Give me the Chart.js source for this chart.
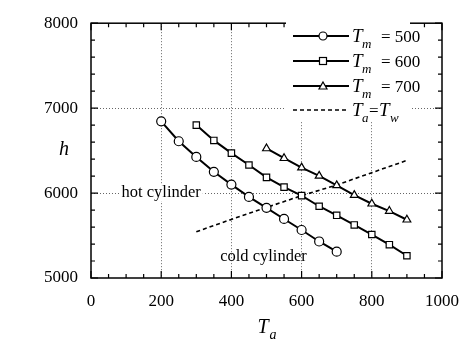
<!DOCTYPE html>
<html>
<head>
<meta charset="utf-8">
<script src="https://cdn.jsdelivr.net/npm/chart.js@4.4.1/dist/chart.umd.min.js"></script>
<style>
  html, body { margin: 0; padding: 0; background: #fff; }
  #wrap { width: 472px; height: 345px; }
</style>
</head>
<body>
<div id="wrap"><canvas id="myChart" width="472" height="345"></canvas></div>
<script>
// values
const ta500 = [200, 250, 300, 350, 400, 450, 500, 550, 600, 650, 700]
const h500 = [6845, 6610, 6425, 6250, 6100, 5955, 5826, 5695, 5565, 5430, 5310]

const ta600 = [300, 350, 400, 450, 500, 550, 600, 650, 700, 750, 800, 850, 900]
const h600 = [6800, 6620, 6470, 6330, 6185, 6070, 5970, 5845, 5738, 5625, 5512, 5392, 5262]

const ta700 = [500, 550, 600, 650, 700, 750, 800, 850, 900]
const h700 = [6525, 6410, 6300, 6203, 6090, 5976, 5874, 5788, 5686]

const taWall = [300, 400, 500, 600, 700, 800, 900]
const hWall = [5545, 5690, 5830, 5970, 6095, 6240, 6385]

const xTicks = [0, 200, 400, 600, 800, 1000]
const yTicks = [5000, 6000, 7000, 8000]
const legendNames = ['500', '600', '700']

const serif = '"Liberation Serif", "DejaVu Serif", serif'

function toPoints(xs, ys) {
   return xs.map((x, i) => ({ x: x, y: ys[i] }))
}

// inward ticks + full box + legend + text labels
const decorations = {
   id: 'decorations',
   afterDraw(chart) {
      const ctx = chart.ctx
      const a = chart.chartArea
      const xs = chart.scales.x
      const ys = chart.scales.y
      ctx.save()
      ctx.strokeStyle = '#000'
      ctx.lineWidth = 1.2

      for (let v = 0; v <= 1000; v += 50) {
         const px = xs.getPixelForValue(v)
         const len = v % 200 === 0 ? 7 : 4
         ctx.beginPath()
         ctx.moveTo(px, a.bottom); ctx.lineTo(px, a.bottom - len)
         ctx.moveTo(px, a.top); ctx.lineTo(px, a.top + len)
         ctx.stroke()
      }
      for (let v = 5000; v <= 8000; v += 200) {
         const py = ys.getPixelForValue(v)
         const len = v % 1000 === 0 ? 7 : 4
         ctx.beginPath()
         ctx.moveTo(a.left, py); ctx.lineTo(a.left + len, py)
         ctx.moveTo(a.right, py); ctx.lineTo(a.right - len, py)
         ctx.stroke()
      }

      ctx.lineWidth = 1.5
      ctx.strokeRect(a.left, a.top, a.right - a.left, a.bottom - a.top)

      // region labels
      ctx.font = '16.5px ' + serif
      ctx.textBaseline = 'middle'
      ctx.textAlign = 'left'
      const hotX = xs.getPixelForValue(87)
      const hotY = ys.getPixelForValue(6000)
      const hw = ctx.measureText('hot cylinder').width
      ctx.fillStyle = '#fff'
      ctx.fillRect(hotX - 2, hotY - 8, hw + 4, 16)
      ctx.fillStyle = '#000'
      ctx.fillText('hot cylinder', hotX, hotY)
      ctx.fillText('cold cylinder', xs.getPixelForValue(368), ys.getPixelForValue(5250))

      // legend
      const lx0 = 293, lx1 = 349, mx = 323
      const rows = [36, 61, 86, 110]
      ctx.fillStyle = '#fff'
      ctx.fillRect(286, 22, 124, 100)
      chart.data.datasets.forEach((ds, i) => {
         const y = rows[i]
         ctx.strokeStyle = '#000'
         ctx.lineWidth = ds.borderWidth
         ctx.setLineDash(ds.borderDash || [])
         ctx.beginPath()
         ctx.moveTo(lx0, y); ctx.lineTo(lx1, y)
         ctx.stroke()
         ctx.setLineDash([])
         ctx.lineWidth = 1.2
         ctx.fillStyle = '#fff'
         if (ds.pointStyle === 'circle') {
            ctx.beginPath(); ctx.arc(mx, y, 4, 0, Math.PI * 2); ctx.fill(); ctx.stroke()
         } else if (ds.pointStyle === 'rect') {
            ctx.fillRect(mx - 3.5, y - 3.5, 7, 7); ctx.strokeRect(mx - 3.5, y - 3.5, 7, 7)
         } else if (ds.pointStyle === 'triangle') {
            ctx.beginPath(); ctx.moveTo(mx, y - 4); ctx.lineTo(mx + 4, y + 3); ctx.lineTo(mx - 4, y + 3)
            ctx.closePath(); ctx.fill(); ctx.stroke()
         }
         ctx.fillStyle = '#000'
         ctx.textAlign = 'left'
         ctx.textBaseline = 'alphabetic'
         ctx.font = 'italic 19px ' + serif
         ctx.fillText('T', 352, y + 6)
         if (i < 3) {
            ctx.font = 'italic 13px ' + serif
            ctx.fillText('m', 362, y + 12)
            ctx.font = '17px ' + serif
            ctx.fillText('= ' + legendNames[i], 381, y + 6)
         } else {
            ctx.font = 'italic 13px ' + serif
            ctx.fillText('a', 362, y + 12)
            ctx.font = '17px ' + serif
            ctx.fillText('=', 369, y + 6)
            ctx.font = 'italic 19px ' + serif
            ctx.fillText('T', 379, y + 6)
            ctx.font = 'italic 13px ' + serif
            ctx.fillText('w', 390, y + 12)
         }
      })

      // axis titles
      ctx.fillStyle = '#000'
      ctx.font = 'italic 20px ' + serif
      ctx.textAlign = 'center'
      ctx.textBaseline = 'alphabetic'
      ctx.fillText('h', 64, 155)
      ctx.fillText('T', 263, 333)
      ctx.font = 'italic 14px ' + serif
      ctx.fillText('a', 273, 339)
      ctx.restore()
   }
}

const ctx = document.getElementById('myChart')

const myChart = new Chart(ctx, {
   type: 'scatter',
   data: {
      datasets: [
         {
            data: toPoints(ta500, h500),
            showLine: true, borderColor: '#000', borderWidth: 2,
            pointStyle: 'circle', pointRadius: 4.5, pointBorderWidth: 1.2,
            pointBackgroundColor: '#fff', pointBorderColor: '#000'
         },
         {
            data: toPoints(ta600, h600),
            showLine: true, borderColor: '#000', borderWidth: 2,
            pointStyle: 'rect', pointRadius: 4.5, pointBorderWidth: 1.2,
            pointBackgroundColor: '#fff', pointBorderColor: '#000'
         },
         {
            data: toPoints(ta700, h700),
            showLine: true, borderColor: '#000', borderWidth: 2,
            pointStyle: 'triangle', pointRadius: 4.5, pointBorderWidth: 1.2,
            pointBackgroundColor: '#fff', pointBorderColor: '#000'
         },
         {
            data: toPoints(taWall, hWall),
            showLine: true, borderColor: '#000', borderWidth: 1.6, borderDash: [4, 3],
            pointRadius: 0, pointStyle: 'line'
         }
      ]
   },
   options: {
      responsive: false,
      animation: false,
      layout: { padding: { left: 0, right: 22, top: 13, bottom: 0 } },
      plugins: { legend: { display: false }, tooltip: { enabled: false } },
      scales: {
         x: {
            type: 'linear', min: 0, max: 1000,
            afterBuildTicks: s => { s.ticks = xTicks.map(v => ({ value: v })) },
            afterFit: s => { s.height = 67 },
            border: { display: false, dash: [1, 2] },
            grid: {
               drawTicks: false,
               color: c => (c.tick.value > 0 && c.tick.value < 1000) ? '#666' : 'rgba(0,0,0,0)',
               lineWidth: 1
            },
            ticks: {
               color: '#000', padding: 13, font: { family: serif, size: 17 },
               callback: v => String(v)
            }
         },
         y: {
            type: 'linear', min: 5000, max: 8000,
            afterBuildTicks: s => { s.ticks = yTicks.map(v => ({ value: v })) },
            afterFit: s => { s.width = 91 },
            border: { display: false, dash: [1, 2] },
            grid: {
               drawTicks: false,
               color: c => (c.tick.value > 5000 && c.tick.value < 8000) ? '#666' : 'rgba(0,0,0,0)',
               lineWidth: 1
            },
            ticks: {
               color: '#000', padding: 13, font: { family: serif, size: 17 },
               callback: v => String(v)
            }
         }
      }
   },
   plugins: [decorations]
})
</script>
</body>
</html>
